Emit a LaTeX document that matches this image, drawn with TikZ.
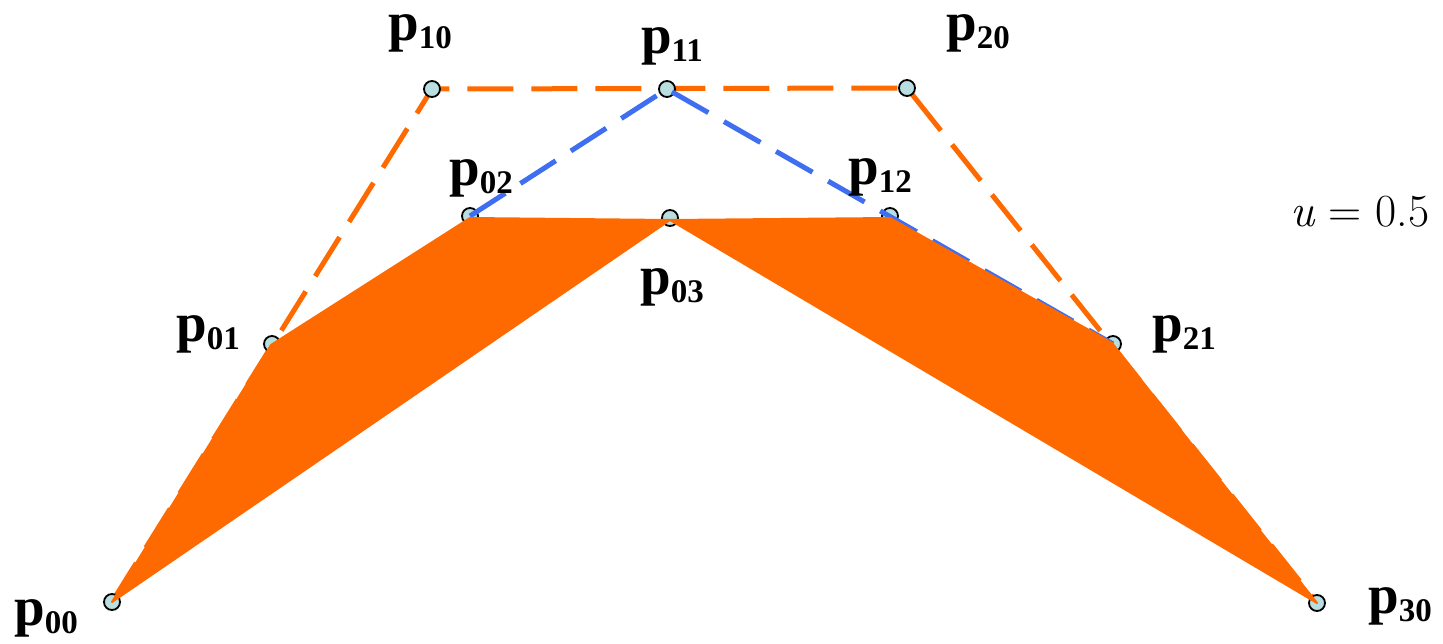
\documentclass[tikz,border=0pt]{standalone}
\usepackage{fontspec}
\newfontfamily\tim{Liberation Serif}
\definecolor{cor}{HTML}{FF6A00}
\definecolor{cbl}{HTML}{3F6FF0}
\definecolor{cpt}{HTML}{B8DEE0}
\newcommand\lp[1]{{\tim\fontsize{55}{55}\selectfont\bfseries p\raisebox{-8pt}{\fontsize{33}{33}\selectfont #1}}}
\begin{document}
\begin{tikzpicture}[x=1pt,y=-1pt,
  pt/.style={circle,draw=black,fill=cpt,line width=1.8pt,minimum size=16pt,inner sep=0pt},
  lab/.style={inner sep=0pt},
  odash/.style={draw=cor,line width=5pt,dash pattern=on 46pt off 18pt},
  bdash/.style={draw=cbl,line width=5pt,dash pattern=on 42pt off 18pt},
  ofill/.style={fill=cor,draw=cor,line width=2pt,line join=round}]
\useasboundingbox (0,0) rectangle (1443,643);
% coordinates
\coordinate (c00) at (112,602);
\coordinate (c10) at (432,89);
\coordinate (c11) at (667,89);
\coordinate (c20) at (907,88);
\coordinate (c30) at (1317,603);
\coordinate (c01) at (272,344);
\coordinate (c02) at (470,216);
\coordinate (c03) at (670,218);
\coordinate (c12) at (890,216);
\coordinate (c21) at (1113,344);
% control polygon
\draw[odash] (c00) -- (c10) -- (c20) -- (c30);
% points
\foreach \n in {00,10,11,20,30,01,02,03,12,21} \node[pt] (n\n) at (c\n) {};
\draw[bdash] (c02) -- (c11) -- (c21);
% filled sub-polygons
\path[ofill] (c00) -- ([shift={(-1pt,-1pt)}]c01) -- ([yshift=-2pt]c02) -- ([yshift=-2pt]c03) -- cycle;
\path[ofill] ([yshift=-2pt]c03) -- ([yshift=-2pt]c12) -- ([shift={(-1pt,1pt)}]c21) -- (c30) -- cycle;
% labels
\node[lab] (l00) at (46,618) {\lp{00}};
\node[lab] (l10) at (420,33) {\lp{10}};
\node[lab] (l11) at (672,46) {\lp{11}};
\node[lab] (l20) at (978,33) {\lp{20}};
\node[lab] (l30) at (1400,606) {\lp{30}};
\node[lab] (l01) at (208,334) {\lp{01}};
\node[lab] (l02) at (481,178) {\lp{02}};
\node[lab] (l03) at (672,287) {\lp{03}};
\node[lab] (l12) at (880,177) {\lp{12}};
\node[lab] (l21) at (1184,334) {\lp{21}};
\node[lab] (u) at (1360,212) {\fontsize{46}{46}\selectfont\itshape u\upshape\ = 0.5};
\end{tikzpicture}
\end{document}
